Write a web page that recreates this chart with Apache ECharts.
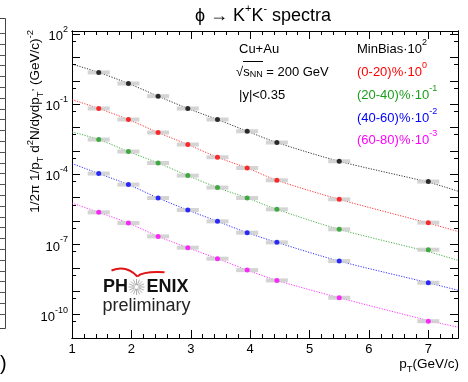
<!DOCTYPE html>
<html>
<head>
<meta charset="utf-8">
<script src="https://cdn.jsdelivr.net/npm/echarts@6/dist/echarts.min.js"></script>
<style>
  html, body { margin: 0; padding: 0; background: #ffffff; }
  #chart { width: 468px; height: 382px; }
</style>
</head>
<body>
<div id="chart"></div>
<script>
// phi -> K+K- invariant yields, Cu+Au at sqrt(sNN) = 200 GeV, |y| < 0.35
const ptBins = [1.45, 1.95, 2.45, 2.95, 3.45, 3.95, 4.45, 5.5, 7.0];

// spectra already multiplied by the scale factor shown in the legend
const minBias  = [2.28, 0.769, 0.220, 0.0655, 0.0221, 6.98e-3, 2.29e-3, 3.62e-4, 4.89e-5];
const cent0020 = [0.0655, 0.0221, 6.14e-3, 1.88e-3, 5.37e-4, 1.87e-4, 5.56e-5, 8.53e-6, 8.59e-7];
const cent2040 = [3.08e-3, 9.42e-4, 3.06e-4, 8.83e-5, 2.71e-5, 9.70e-6, 3.18e-6, 4.44e-7, 5.98e-8];
const cent4060 = [1.08e-4, 3.64e-5, 9.70e-6, 2.97e-6, 9.75e-7, 3.20e-7, 1.23e-7, 1.95e-8, 2.31e-9];
const cent6080 = [2.37e-6, 8.26e-7, 2.22e-7, 7.29e-8, 2.47e-8, 8.02e-9, 2.90e-9, 5.27e-10, 5.24e-11];

// fit curves, sampled along pT
const fitPt       = [1.0, 1.45, 1.95, 2.45, 2.95, 3.45, 3.95, 4.45, 5.5, 7.0, 7.5];
const minBiasFit  = [5.2, 2.28, 0.769, 0.220, 0.0655, 0.0221, 6.98e-3, 2.29e-3, 3.62e-4, 4.6e-5, 1.9e-5];
const cent0020Fit = [0.158, 0.0655, 0.0221, 6.14e-3, 1.88e-3, 5.37e-4, 1.87e-4, 5.56e-5, 8.53e-6, 8.2e-7, 3.6e-7];
const cent2040Fit = [6.5e-3, 3.08e-3, 9.42e-4, 3.06e-4, 8.83e-5, 2.71e-5, 9.70e-6, 3.18e-6, 4.44e-7, 4.9e-8, 2.1e-8];
const cent4060Fit = [2.9e-4, 1.08e-4, 3.64e-5, 9.70e-6, 2.97e-6, 9.75e-7, 3.20e-7, 1.23e-7, 1.95e-8, 2.3e-9, 1.1e-9];
const cent6080Fit = [5.9e-6, 2.37e-6, 8.26e-7, 2.22e-7, 7.29e-8, 2.47e-8, 8.02e-9, 2.90e-9, 5.27e-10, 5.6e-11, 2.9e-11];

const seriesNames = ['MinBias', '(0-20)%', '(20-40)%', '(40-60)%', '(60-80)%'];
const seriesScale = ['2', '0', '-1', '-2', '-3'];
const seriesColors = ['#000000', '#ff0000', '#1c9e1c', '#0000ff', '#ff00ff'];

// axis ticks and labels
const xMajor = [1, 2, 3, 4, 5, 6, 7];
const xMinor = [];
for (let i = 0; i <= 32; i++) xMinor.push(Math.round((1 + i * 0.2) * 10) / 10);
const yDecades = [];
for (let e = -11; e <= 2; e++) yDecades.push(Number('1e' + e));
const yMinor = [];
for (let e = -11; e <= 1; e++) yMinor.push(Number('5e' + e));
const yLabels = [1e2, 1e-1, 1e-4, 1e-7, 1e-10];

const FONT = 'Liberation Sans, Arial, Helvetica, sans-serif';
const chart = echarts.init(document.getElementById('chart'), null, { renderer: 'canvas' });

const groups = [
  { pts: minBias, fit: minBiasFit },
  { pts: cent0020, fit: cent0020Fit },
  { pts: cent2040, fit: cent2040Fit },
  { pts: cent4060, fit: cent4060Fit },
  { pts: cent6080, fit: cent6080Fit }
];

const series = [];
groups.forEach((g, k) => {
  series.push({
    name: seriesNames[k] + ' fit', type: 'line', silent: true, z: 1,
    data: fitPt.map((x, i) => [x, g.fit[i]]),
    smooth: 0.3, symbol: 'none',
    lineStyle: { color: seriesColors[k], width: 1, type: [1.2, 1.4], opacity: 0.8 }
  });
});
groups.forEach((g, k) => {
  series.push({
    name: seriesNames[k] + ' syst', type: 'scatter', silent: true, z: 2,
    data: ptBins.map((x, i) => [x, g.pts[i]]),
    symbol: 'rect', symbolSize: [22, 4],
    itemStyle: { color: '#cdcdcd', opacity: 0.85 }
  });
});
groups.forEach((g, k) => {
  series.push({
    name: seriesNames[k], type: 'scatter', z: 3,
    data: ptBins.map((x, i) => [x, g.pts[i]]),
    symbol: 'circle', symbolSize: 5,
    itemStyle: { color: seriesColors[k] }
  });
});

const axisLine = { show: true, lineStyle: { color: '#000', width: 1 } };
function xAxisDef(position, ticks, len, labels) {
  return {
    type: 'value', min: 1, max: 7.5, position: position,
    axisLine: axisLine,
    axisTick: { show: true, inside: true, length: len, customValues: ticks, lineStyle: { color: '#000', width: 1 } },
    axisLabel: labels ? {
      show: true, customValues: xMajor, color: '#000', fontSize: 13, fontFamily: FONT, margin: 5,
      formatter: v => String(v)
    } : { show: false },
    splitLine: { show: false }
  };
}
function yAxisDef(position, ticks, len, labels) {
  return {
    type: 'log', logBase: 10, min: 1e-11, max: 135, position: position,
    axisLine: axisLine,
    axisTick: { show: true, inside: true, length: len, customValues: ticks, lineStyle: { color: '#000', width: 1 } },
    axisLabel: labels ? {
      show: true, customValues: yLabels, margin: 4,
      formatter: v => '{b|10}{s|' + Math.round(Math.log10(v)) + '}',
      rich: {
        b: { fontSize: 13, fontFamily: FONT, color: '#000', lineHeight: 18, verticalAlign: 'bottom' },
        s: { fontSize: 9, fontFamily: FONT, color: '#000', lineHeight: 18, verticalAlign: 'top' }
      }
    } : { show: false },
    splitLine: { show: false }
  };
}

// legend / annotation text blocks
const rich13 = {
  n: { fontSize: 13, fontFamily: FONT, lineHeight: 18, verticalAlign: 'bottom' },
  s: { fontSize: 9, fontFamily: FONT, lineHeight: 18, verticalAlign: 'top' },
  d: { fontSize: 9, fontFamily: FONT, lineHeight: 18, verticalAlign: 'bottom' }
};
function richFor(color) {
  const r = {};
  Object.keys(rich13).forEach(k => { r[k] = Object.assign({ color: color }, rich13[k]); });
  return r;
}
const graphics = [];
function addText(x, y, text, color, align) {
  graphics.push({
    type: 'text', x: x, y: y, silent: true,
    style: { text: text, rich: richFor(color), fill: color, align: align || 'left', verticalAlign: 'middle' }
  });
}
addText(239, 47, '{n|Cu+Au}', '#000');
addText(236, 70, '{n|√s}{d|NN}{n| = 200 GeV}', '#000');
addText(239, 93, '{n||y|<0.35}', '#000');
const legendY = [47, 70, 93, 116, 138];
seriesNames.forEach((nm, k) => {
  addText(357, legendY[k], '{n|' + nm + '·10}{s|' + seriesScale[k] + '}', seriesColors[k]);
});
// overline of the square root
graphics.push({ type: 'line', silent: true, shape: { x1: 243, y1: 61.5, x2: 263, y2: 61.5 }, style: { stroke: '#000', lineWidth: 1 } });

// title
graphics.push({
  type: 'text', x: 263, y: 14, silent: true,
  style: {
    text: '{n|ϕ → K}{s|+}{n|K}{s|-}{n| spectra}', align: 'center', verticalAlign: 'middle',
    rich: {
      n: { fontSize: 18, fontFamily: FONT, color: '#000', lineHeight: 22, verticalAlign: 'bottom' },
      s: { fontSize: 11, fontFamily: FONT, color: '#000', lineHeight: 22, verticalAlign: 'top' }
    }
  }
});

// y axis title
graphics.push({
  type: 'text', x: 35, y: 30, rotation: Math.PI / 2, silent: true,
  style: {
    text: '{n|1/2π 1/p}{d|T}{n| d}{s|2}{n|N/dydp}{d|T}{s|,}{n| (GeV/c)}{s|-2}',
    align: 'right', verticalAlign: 'middle',
    rich: {
      n: { fontSize: 13.5, fontFamily: FONT, color: '#000', lineHeight: 20, verticalAlign: 'middle' },
      s: { fontSize: 9.5, fontFamily: FONT, color: '#000', lineHeight: 20, verticalAlign: 'top' },
      d: { fontSize: 9.5, fontFamily: FONT, color: '#000', lineHeight: 20, verticalAlign: 'bottom' }
    }
  }
});

// x axis title
graphics.push({
  type: 'text', x: 459, y: 364, silent: true,
  style: {
    text: '{n|p}{d|T}{n|(GeV/c)}', align: 'right', verticalAlign: 'middle',
    rich: {
      n: { fontSize: 13.5, fontFamily: FONT, color: '#000', lineHeight: 20, verticalAlign: 'middle' },
      d: { fontSize: 9.5, fontFamily: FONT, color: '#000', lineHeight: 20, verticalAlign: 'bottom' }
    }
  }
});

// PHENIX preliminary logo
graphics.push({
  type: 'bezierCurve', silent: true,
  shape: { x1: 111.5, y1: 270.5, cpx1: 119, cpy1: 267.5, cpx2: 129, cpy2: 267.5, x2: 137.3, y2: 276.5 },
  style: { stroke: '#e01515', lineWidth: 2, fill: null }
});
graphics.push({
  type: 'bezierCurve', silent: true,
  shape: { x1: 137.3, y1: 276.5, cpx1: 142, cpy1: 272.5, cpx2: 151, cpy2: 271.5, x2: 164.5, y2: 272.3 },
  style: { stroke: '#e01515', lineWidth: 2, fill: null }
});
graphics.push({ type: 'text', x: 103, y: 287, silent: true,
  style: { text: 'PH', fontSize: 18, fontWeight: 'bold', fontFamily: FONT, fill: '#111', verticalAlign: 'middle' } });
graphics.push({ type: 'text', x: 146.5, y: 287, silent: true,
  style: { text: 'ENIX', fontSize: 18, fontWeight: 'bold', fontFamily: FONT, fill: '#111', verticalAlign: 'middle' } });
for (let i = 0; i < 16; i++) {
  const a = i * Math.PI / 8;
  graphics.push({ type: 'line', silent: true,
    shape: { x1: 136.5 + 2 * Math.cos(a), y1: 287 + 2 * Math.sin(a), x2: 136.5 + 8 * Math.cos(a), y2: 287 + 8 * Math.sin(a) },
    style: { stroke: '#9a9a9a', lineWidth: 0.8 } });
}
graphics.push({ type: 'text', x: 102.5, y: 306, silent: true,
  style: { text: 'preliminary', fontSize: 18, fontFamily: FONT, fill: '#222', verticalAlign: 'middle' } });

// edge of the neighbouring panel on the left
graphics.push({ type: 'polyline', silent: true,
  shape: { points: [[0, 18.5], [5.5, 18.5], [5.5, 328.5], [0, 328.5]] },
  style: { stroke: '#444', lineWidth: 1, fill: null } });
for (let y = 33; y < 322; y += 10.8) {
  graphics.push({ type: 'line', silent: true,
    shape: { x1: 0, y1: Math.round(y) + 0.5, x2: 5.5, y2: Math.round(y) + 0.5 },
    style: { stroke: '#555', lineWidth: 1 } });
}
graphics.push({ type: 'text', x: 0, y: 364, silent: true,
  style: { text: ')', fontSize: 20, fontFamily: FONT, fill: '#000', verticalAlign: 'middle' } });

chart.setOption({
  animation: false,
  backgroundColor: '#ffffff',
  grid: { left: 72, right: 10, top: 31, bottom: 44, containLabel: false },
  xAxis: [
    xAxisDef('bottom', xMajor, 8, true),
    xAxisDef('bottom', xMinor, 4, false),
    xAxisDef('top', xMajor, 8, false),
    xAxisDef('top', xMinor, 4, false)
  ],
  yAxis: [
    yAxisDef('left', yDecades, 8, true),
    yAxisDef('left', yMinor, 4, false),
    yAxisDef('right', yDecades, 8, false),
    yAxisDef('right', yMinor, 4, false)
  ],
  series: series,
  graphic: graphics
});
</script>
</body>
</html>
